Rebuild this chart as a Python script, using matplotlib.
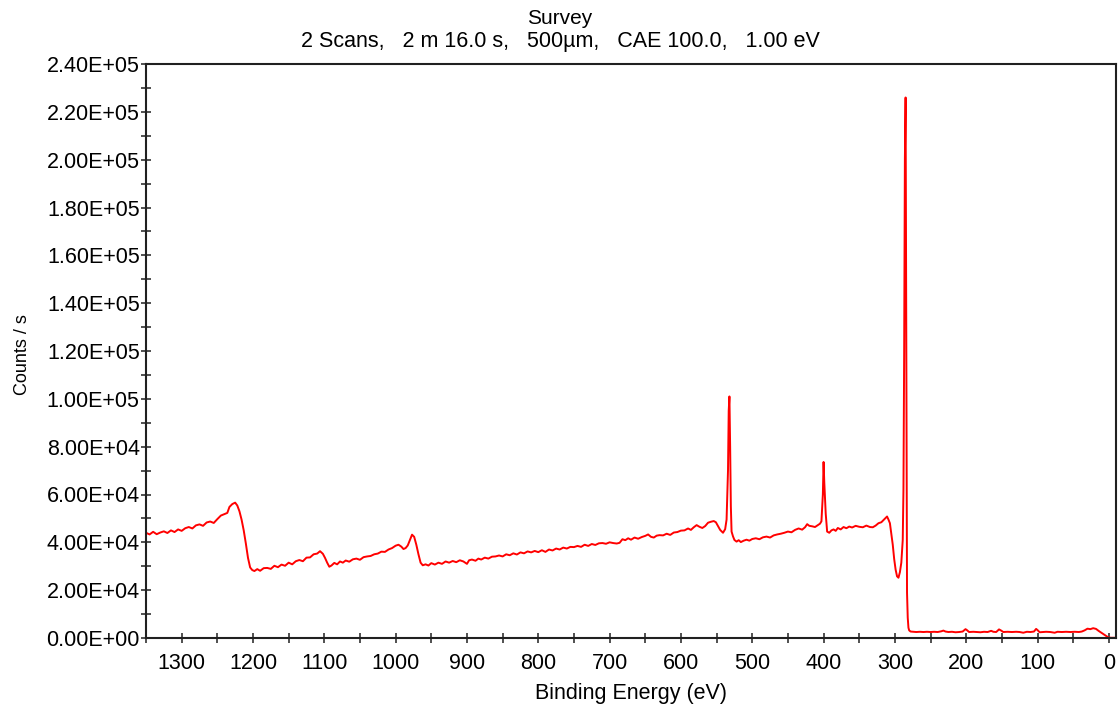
import numpy as np
import matplotlib
matplotlib.use("Agg")
import matplotlib.pyplot as plt
from matplotlib.ticker import MultipleLocator, FuncFormatter

plt.rcParams['font.family'] = ['Liberation Sans', 'DejaVu Sans']

# === survey spectrum (binding energy in eV, counts per second) ===
energy_ev = [
    1350, 1345, 1340, 1335, 1330, 1325, 1320, 1315, 1310, 1305,
    1300, 1295, 1290, 1285, 1280, 1275, 1270, 1265, 1260, 1255,
    1250, 1245, 1240, 1236, 1233, 1229, 1225, 1222, 1219, 1216,
    1213, 1210, 1207, 1204, 1201, 1198, 1194, 1190, 1185, 1180,
    1175, 1170, 1165, 1160, 1155, 1150, 1145, 1140, 1135, 1130,
    1125, 1120, 1115, 1110, 1106, 1102, 1099, 1096, 1093, 1090,
    1086, 1082, 1078, 1074, 1070, 1065, 1060, 1055, 1050, 1045,
    1040, 1035, 1030, 1025, 1020, 1015, 1010, 1005, 1000, 996,
    992, 989, 986, 983, 980, 977, 974, 971, 968, 965,
    962, 958, 954, 950, 945, 940, 935, 930, 925, 920,
    915, 910, 905, 900, 897, 893, 888, 884, 880, 875,
    870, 865, 860, 855, 850, 845, 840, 835, 830, 825,
    820, 815, 810, 805, 800, 795, 790, 785, 780, 775,
    770, 765, 760, 755, 750, 745, 740, 735, 730, 725,
    720, 715, 710, 705, 700, 695, 690, 686, 682, 678,
    674, 670, 665, 660, 655, 650, 646, 642, 638, 634,
    630, 625, 620, 615, 610, 605, 600, 595, 590, 586,
    582, 578, 574, 570, 566, 562, 558, 554, 551, 548,
    545, 541, 538, 536, 534, 533, 532, 531, 530, 529,
    527, 525, 522, 519, 516, 512, 508, 504, 500, 495,
    490, 485, 480, 475, 470, 465, 460, 455, 450, 445,
    440, 435, 430, 426, 423, 420, 416, 412, 408, 405,
    403, 401, 400, 399, 397, 395, 392, 389, 386, 383,
    380, 376, 372, 368, 364, 360, 355, 350, 345, 340,
    335, 331, 327, 323, 319, 315, 311, 309, 307, 305,
    303, 301, 299, 297, 295, 293, 291, 289, 288, 287,
    286, 285, 284, 283, 282, 281, 280, 278, 274, 270,
    265, 260, 255, 250, 245, 240, 235, 232, 229, 225,
    220, 215, 210, 205, 201, 199, 196, 190, 185, 180,
    175, 170, 165, 162, 158, 154, 151, 148, 142, 136,
    130, 125, 120, 115, 110, 105, 102, 100, 97, 92,
    88, 82, 76, 72, 66, 60, 54, 48, 42, 38,
    34, 30, 26, 22, 18, 14, 10, 6, 3, 1,
    0, -3, -10,
]

counts = [
    44000, 43300, 44400, 43400, 44100, 44600, 43900, 45000, 44300, 45400,
    44800, 45900, 46400, 45800, 47100, 47500, 46900, 48300, 48700, 48100,
    49700, 51200, 51800, 52300, 54800, 56000, 56600, 55400, 53000, 49500,
    45000, 39500, 33500, 29500, 28400, 28000, 28800, 28100, 29200, 29300,
    28900, 30200, 29600, 30700, 30200, 31500, 30800, 32100, 32600, 32100,
    33600, 33700, 35000, 35300, 36300, 35200, 33500, 31500, 29800, 30300,
    31400, 30800, 32000, 31500, 32400, 31900, 32900, 33200, 32700, 33800,
    34100, 34300, 35000, 35300, 36100, 36000, 37000, 37600, 38600, 39000,
    38200, 37200, 37600, 38700, 41000, 43200, 42300, 39000, 35000, 31500,
    30400, 30800, 30300, 31300, 30700, 31500, 31000, 32000, 31500, 32200,
    31700, 32500, 32000, 31000, 32500, 32800, 32300, 33200, 32800, 33600,
    33200, 34000, 34100, 34500, 34100, 35000, 34600, 35400, 34900, 35800,
    35400, 36200, 35800, 36400, 35900, 36700, 36000, 37000, 36600, 37400,
    37000, 37800, 37400, 38100, 38000, 38500, 38100, 39000, 38500, 39300,
    38900, 39600, 39700, 39400, 40000, 39700, 39500, 39800, 41300, 40900,
    41700, 41100, 42000, 41500, 42200, 42700, 43300, 42300, 42000, 42800,
    43000, 42900, 43600, 43100, 44100, 44300, 44900, 45000, 45800, 45200,
    46300, 47200, 46500, 46000, 46800, 48200, 48600, 48900, 48400, 46800,
    45200, 44000, 45500, 49500, 70000, 95000, 101000, 80000, 55000, 44500,
    42500, 41000, 40300, 40900, 40100, 40700, 41100, 40700, 41400, 41700,
    41300, 42100, 42400, 42000, 42900, 43300, 43600, 44000, 44500, 44200,
    45200, 45800, 45300, 46300, 47600, 46900, 46700, 46400, 47200, 47800,
    48800, 60000, 73600, 65000, 52000, 44500, 44000, 45000, 45400, 44800,
    46000, 45400, 46400, 45900, 46600, 46200, 46900, 46500, 46300, 47000,
    46400, 46300, 47000, 48000, 48400, 49600, 50800, 49500, 48000, 43500,
    39000, 33000, 28600, 25800, 25200, 27500, 31500, 41000, 62000, 120000,
    200000, 226000, 120000, 19000, 8500, 4300, 3200, 2700, 2600, 2500,
    2600, 2500, 2600, 2500, 2600, 2500, 2800, 3100, 2700, 2500,
    2600, 2400, 2500, 2700, 3700, 3300, 2500, 2600, 2500, 2400,
    2600, 2500, 3000, 2600, 2500, 3600, 3100, 2500, 2600, 2500,
    2600, 2500, 2200, 2600, 2500, 2700, 3800, 3300, 2400, 2500,
    2600, 2500, 2200, 2600, 2500, 2600, 2500, 2600, 2500, 2700,
    3200, 3900, 3700, 4100, 3800, 2900, 2100, 1300, 700, 300,
    200, 100, 100,
]

title_line1 = "Survey"
title_line2 = ",   ".join(["2 Scans", "2 m 16.0 s", "500µm", "CAE 100.0", "1.00 eV"])

fig = plt.figure(figsize=(11.2, 7.09), dpi=100)
ax = fig.add_axes([146 / 1120, 1 - 638 / 709, 970 / 1120, 574 / 709])

ax.plot(energy_ev, counts, color='#ff0000', linewidth=1.4)

ax.set_xlim(1350, -10)
ax.set_ylim(0, 240000)

ax.xaxis.set_major_locator(MultipleLocator(100))
ax.xaxis.set_minor_locator(MultipleLocator(50))
ax.yaxis.set_major_locator(MultipleLocator(20000))
ax.yaxis.set_minor_locator(MultipleLocator(10000))
ax.yaxis.set_major_formatter(FuncFormatter(lambda v, p: "%.2E" % v))

ax.tick_params(which='both', direction='inout', length=7, width=1.1,
               color='#202020', labelsize=15.5)
ax.tick_params(axis='x', which='major', pad=7)
ax.tick_params(axis='y', which='major', pad=1)

for s in ax.spines.values():
    s.set_linewidth(1.5)
    s.set_color('#202020')

ax.set_xlabel("Binding Energy (eV)", fontsize=15.5, labelpad=7)
ax.set_ylabel("Counts / s", fontsize=13)
ax.yaxis.set_label_coords(-0.119, 0.493)

fig.text(0.5, 1 - 18 / 709, title_line1, ha='center', va='center', fontsize=15)
fig.text(0.5, 1 - 41 / 709, title_line2, ha='center', va='center', fontsize=15.5)

fig.savefig("out.png", dpi=100)
